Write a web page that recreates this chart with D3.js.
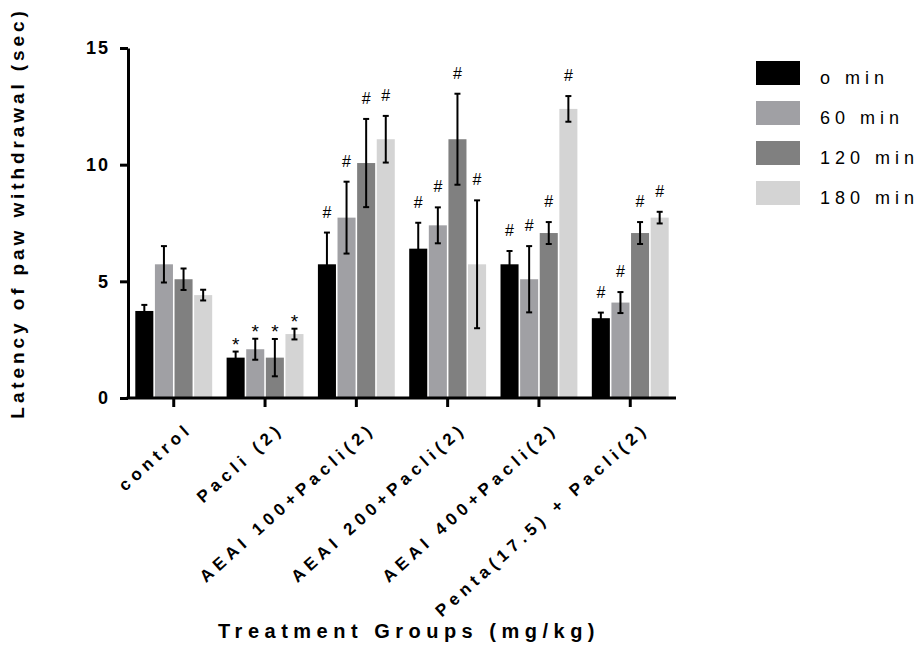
<!DOCTYPE html>
<html>
<head>
<meta charset="utf-8">
<script src="https://cdn.jsdelivr.net/npm/d3@7"></script>
<style>
  body { margin: 0; background: #fff; }
  svg text { font-family: "Liberation Sans", Arial, sans-serif; }
</style>
</head>
<body>
<svg id="chart" width="924" height="668"></svg>
<script>
// data
const groups = ['control', 'Pacli (2)', 'AEAI 100+Pacli(2)', 'AEAI 200+Pacli(2)', 'AEAI 400+Pacli(2)', 'Penta(17.5) + Pacli(2)'];
const series = ['o min', '60 min', '120 min', '180 min'];
const seriesColors = ['#000000', '#a0a0a4', '#808080', '#d4d4d4'];

const means0 = [3.73, 1.73, 5.73, 6.40, 5.73, 3.42];
const means60 = [5.73, 2.09, 7.73, 7.40, 5.09, 4.09];
const means120 = [5.09, 1.73, 10.07, 11.09, 7.07, 7.07];
const means180 = [4.41, 2.74, 11.09, 5.73, 12.39, 7.73];

const err0 = [0.26, 0.26, 1.36, 1.11, 0.57, 0.24];
const err60 = [0.78, 0.45, 1.54, 0.77, 1.42, 0.45];
const err120 = [0.46, 0.80, 1.89, 1.95, 0.47, 0.47];
const err180 = [0.23, 0.23, 1.00, 2.74, 0.55, 0.25];

// significance marks per group
const marks = ['', '*', '#', '#', '#', '#'];

const yTicks = [0, 5, 10, 15];

const means = [means0, means60, means120, means180];
const errs = [err0, err60, err120, err180];

const svg = d3.select('#chart');

const plotLeft = 128, plotRight = 676, plotTop = 48, plotBottom = 398;

const x0 = d3.scaleBand()
  .domain(groups)
  .range([plotLeft, plotRight])
  .paddingInner(0.158)
  .paddingOuter(0.08);

const x1 = d3.scaleBand()
  .domain(series)
  .range([0, x0.bandwidth()])
  .paddingInner(0.08);

const y = d3.scaleLinear().domain([0, 15]).range([plotBottom, plotTop]);

const rows = [];
groups.forEach(function(g, gi) {
  series.forEach(function(s, si) {
    rows.push({ group: g, series: s, si: si, mean: means[si][gi], err: errs[si][gi], mark: marks[gi] });
  });
});

// bars
svg.append('g').selectAll('rect')
  .data(rows)
  .join('rect')
  .attr('x', d => x0(d.group) + x1(d.series))
  .attr('y', d => y(d.mean))
  .attr('width', x1.bandwidth())
  .attr('height', d => y(0) - y(d.mean))
  .attr('fill', d => seriesColors[d.si]);

// error bars
const eb = svg.append('g').attr('stroke', '#000').attr('stroke-width', 2);
rows.forEach(function(d) {
  const cx = x0(d.group) + x1(d.series) + x1.bandwidth() / 2;
  const capW = 3;
  eb.append('line').attr('x1', cx).attr('x2', cx).attr('y1', y(d.mean + d.err)).attr('y2', y(d.mean - d.err));
  eb.append('line').attr('x1', cx - capW).attr('x2', cx + capW).attr('y1', y(d.mean + d.err)).attr('y2', y(d.mean + d.err));
  eb.append('line').attr('x1', cx - capW).attr('x2', cx + capW).attr('y1', y(d.mean - d.err)).attr('y2', y(d.mean - d.err));
});

// significance marks
svg.append('g').selectAll('text')
  .data(rows.filter(d => d.mark))
  .join('text')
  .attr('x', d => x0(d.group) + x1(d.series) + x1.bandwidth() / 2)
  .attr('y', d => y(d.mean + d.err) - (d.mark === '#' ? 15 : 1))
  .attr('text-anchor', 'middle')
  .attr('font-size', d => d.mark === '#' ? 16 : 19)
  .text(d => d.mark);

// y axis
const yAxis = svg.append('g')
  .attr('transform', `translate(${plotLeft},0)`)
  .call(d3.axisLeft(y).tickValues(yTicks).tickSize(8).tickSizeOuter(0).tickPadding(10));
yAxis.select('.domain').attr('stroke-width', 3);
yAxis.selectAll('.tick line').attr('stroke-width', 3);
yAxis.selectAll('.tick text')
  .attr('font-size', 18)
  .attr('font-weight', 'bold')
  .attr('letter-spacing', '2px')
  .attr('fill', '#000');

// x axis
const xAxis = svg.append('g')
  .attr('transform', `translate(0,${plotBottom})`)
  .call(d3.axisBottom(x0).tickSize(9).tickSizeOuter(0).tickFormat(''));
xAxis.select('.domain').attr('stroke-width', 3).attr('d', `M${plotLeft - 1.5},0H${plotRight}`);
xAxis.selectAll('.tick line').attr('stroke-width', 3);

svg.append('g').selectAll('text')
  .data(groups)
  .join('text')
  .attr('transform', d => `translate(${x0(d) + x0.bandwidth() / 2 + 20},${plotBottom + 32}) rotate(-42)`)
  .attr('text-anchor', 'end')
  .attr('font-size', 17)
  .attr('font-weight', 'bold')
  .attr('letter-spacing', '5px')
  .text(d => d);

// axis titles
svg.append('text')
  .attr('transform', 'translate(24,213) rotate(-90)')
  .attr('text-anchor', 'middle')
  .attr('font-size', 19)
  .attr('font-weight', 'bold')
  .attr('letter-spacing', '3.9px')
  .text('Latency of paw withdrawal (sec)');

svg.append('text')
  .attr('x', 409)
  .attr('y', 638)
  .attr('text-anchor', 'middle')
  .attr('font-size', 20)
  .attr('font-weight', 'bold')
  .attr('letter-spacing', '5.5px')
  .text('Treatment Groups (mg/kg)');

// legend
const legend = svg.append('g').attr('transform', 'translate(756,61)');
series.forEach(function(s, i) {
  const row = legend.append('g').attr('transform', `translate(0,${i * 40})`);
  row.append('rect').attr('width', 44).attr('height', 24).attr('fill', seriesColors[i]);
  row.append('text')
    .attr('x', 64)
    .attr('y', 23)
    .attr('font-size', 18)
    .attr('letter-spacing', '5px')
    .text(s);
});
</script>
</body>
</html>
